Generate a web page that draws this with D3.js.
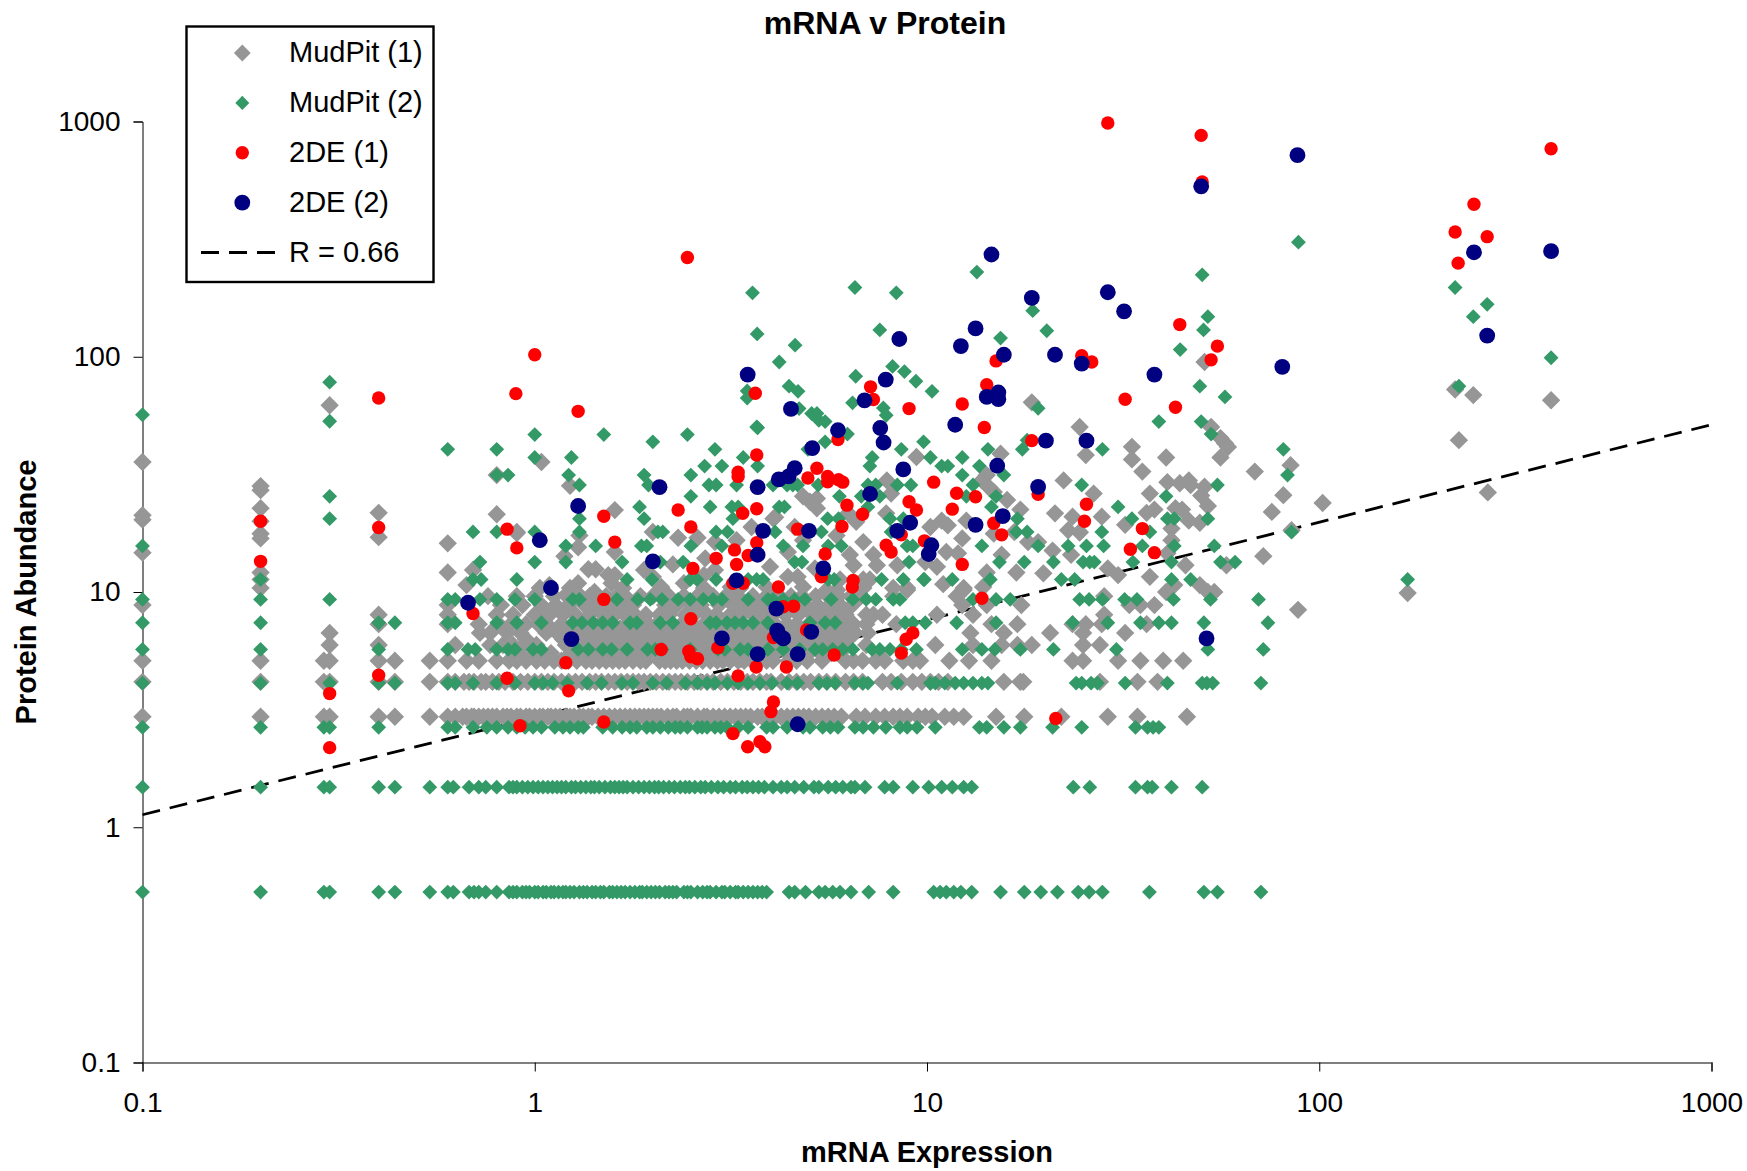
<!DOCTYPE html>
<html>
<head>
<meta charset="utf-8">
<script src="https://d3js.org/d3.v7.min.js"></script>
<style>
  html, body { margin: 0; padding: 0; background: #fff; }
  text { font-family: "Liberation Sans", Arial, sans-serif; fill: #000; }
</style>
</head>
<body>
<div id="graphDiv"></div>
<script>
// values. rows are [protein abundance, [mRNA values]]
var mudpit1Rows = [
  [2.95, [.1,.2,.29,.3,.4,.44,.54,.6,.627,.655,.67,.69,.7,.72,.74,.76,.78,.8,.83,.85,.87,.9,.92,.95,.97,1,1.03,1.05,1.08,1.1,1.13,1.16,1.2,1.23,1.26,1.3,1.33,1.37,1.4,1.45,1.5,1.55,1.6,1.65,1.7,1.75,1.8,1.85,1.9,1.95,2,2.05,2.1,2.18,2.25,2.3,2.4,2.45,2.5,2.6,2.7,2.75,2.85,2.95,3.05,3.15,3.25,3.35,3.45,3.55,3.7,3.8,3.95,4.1,4.25,4.4,4.55,4.7,4.85,5,5.2,5.4,5.6,5.8,6.05,6.6,6.95,7.4,7.8,8.2,8.53,8.9,9.5,9.9,10.3,11.1,11.7,12.4,15,17.7,22,28.9,34.4,46]],
  [4.15, [.1,.2,.29,.3,.4,.44,.54,.6,.627,.66,.68,.7,.73,.75,.78,.81,.84,.88,.92,.96,1,1.04,1.08,1.12,1.17,1.22,1.27,1.32,1.38,1.43,1.48,1.54,1.6,1.66,1.72,1.78,1.84,1.9,1.97,2.04,2.12,2.2,2.28,2.36,2.45,2.55,2.65,2.75,2.85,2.98,3.1,3.22,3.35,3.48,3.6,3.75,3.9,4,4.25,4.45,4.65,4.85,5.05,5.3,5.55,5.85,6.2,6.5,6.85,7.7,8.1,8.6,9.2,9.7,10.2,10.7,11.3,15.7,17.3,17.6,27.6,34.4,38.7]],
  [5.1, [.1,.2,.29,.3,.4,.44,.54,.6,.67,.72,.8,.86,.9,.95,1.01,1.06,1.12,1.17,1.22,1.28,1.35,1.4,1.46,1.52,1.58,1.64,1.7,1.78,1.86,1.92,2.08,2.15,2.22,2.3,2.38,2.48,2.58,2.68,2.8,2.92,3.02,3.15,3.3,3.42,3.58,3.72,3.9,4.05,4.45,4.65,4.95,5.4,6.2,6.5,6.85,7.4,7.8,8.7,9.2,9.6,11.4,12.8,14.6,23.5,25,30.7,35,40,45]],
  [5.95, [.3,.4,.627,.77,.83,.88,.94,1.01,1.2,1.27,1.36,1.44,1.53,1.63,1.74,1.86,1.98,2.1,2.26,2.4,2.55,2.7,2.86,3,3.24,3.45,3.72,3.95,4.25,4.5,4.75,5.1,5.45,5.8,6.05,7,10.5,13.1,15.5,17,18.5,25,27.6]],
  [6.7, [.3,.725,.77,.85,.92,1.07,1.14,1.22,1.31,1.39,1.47,1.58,1.68,1.79,1.9,2.02,2.17,2.33,2.48,2.62,2.78,2.93,3.12,3.38,3.55,3.78,4.02,4.3,4.55,4.85,5.2,5.6,5.95,6.3,6.55,7.07,12.9,15.7,20.6,25,32]],
  [7.3, [.4,.6,.72,.81,.87,.95,1.02,1.17,1.25,1.33,1.46,1.56,1.72,1.83,1.95,2.05,2.23,2.37,2.52,2.7,2.85,3.05,3.2,3.4,3.62,3.85,4.1,4.4,4.65,5,5.35,5.7,6.1,6.5,7,8.35,14.6,17,23.5,25.4,27.9,36.3]],
  [8, [.4,.6,.8,.88,1,1.09,1.18,1.27,1.38,1.5,1.6,1.7,1.8,1.92,2.08,2.2,2.42,2.55,2.75,2.9,3.15,3.35,3.6,3.8,4.05,4.35,4.7,5.1,5.5,5.85,6.2,7,7.3,7.7,10.6,13.1,28.3]],
  [8.8, [.1,.6,.82,.93,1.04,1.13,1.22,1.34,1.44,1.55,1.65,1.78,2.15,2.3,2.5,2.65,2.95,3.2,3.45,3.7,3.95,4.2,4.55,4.9,5.25,5.65,6,6.45,12.3,14.2,17.4,32.8,35,38]],
  [9.6, [.76,.9,1,1.12,1.25,1.38,1.52,1.62,1.7,1.86,2,2.2,2.4,2.6,2.85,3.1,3.3,3.6,3.9,4.2,4.5,4.8,5.2,5.6,5.95,6.4,6.8,8.2,11.9,28.3]],
  // extra rows inside the solid grey block
  [5.5, [.9,1,1.1,1.24,1.33,1.42,1.5,1.6,1.7,1.82,1.95,2.06,2.2,2.34,2.5,2.66,2.82,3,3.2,3.4,3.6,3.85,4.1,4.4,4.7,5,5.35,5.7,6]],
  [6.3, [.95,1.18,1.29,1.41,1.55,1.69,1.84,2,2.14,2.3,2.46,2.64,2.82,3.03,3.3,3.5,3.75,4,4.3,4.6,4.9,5.25,5.55,5.9,6.3]],
  [7, [1.1,1.2,1.3,1.43,1.52,1.65,1.77,1.9,2.03,2.2,2.35,2.5,2.68,2.88,3.1,3.3,3.55,3.8,4.05,4.35,4.62,4.95,5.3,5.65,6,6.4]]
];

// loose grey points away from the rows
var mudpit1Scatter = [
  [.1,35.7],[.1,21.2],[.1,20.3],[.1,14.7],
  [.2,28.2],[.2,27.1],[.2,22.7],[.2,20],[.2,17.7],[.2,16.9],[.2,12.1],[.2,11.3],[.2,10.4],
  [.3,62.2],[.4,21.7],[.4,17.1],[.6,16.1],[.6,12.1],[.696,12.4],[.67,10.7],[.8,21.4],[.9,17.8],
  [1.04,35.7],[.8,31.4],[1.23,28.3],[1.6,22.3],[.9,18],[1.3,17.4],[2,18],[1.29,15.5],[2.32,17],[2.6,17],
  [1.6,14.8],[1.19,14.2],[1.9,12.4],[2.72,13.9],[2.25,13.1],[3.98,12.8],[2.88,16.3],[3.27,16.6],[3.57,18.9],[4.06,20.5],
  [1.37,12.5],[1.43,12.5],[1.54,11.8],[1.6,11.8],[1.57,10.9],[1.68,10.4],[1.42,10],[1.03,10.4],[1.09,10.7],[1.29,10.9],[1.23,10.4],[1.2,9.7],[1.3,9.7],
  [2.1,10.5],[2,11.6],[2.4,10.9],[2.7,11.8],[2.7,10.4],[2.88,12.4],[3.16,10.5],[3.34,10.4],[3.9,10.5],[3.09,9.7],[4.05,9.9],
  [24.5,50.3],[18.5,64],[15.4,38.7],[14.2,31.4],[13.8,29.8],[14.4,27.8],[14.8,26.6],[16,24.6],[17.3,22.4],[16.7,18],[18.1,16.3],[19.2,16.3],[20.9,15],[23.3,14.4],[15.5,14.4],
  [16.9,12.1],[19.8,12],[14.2,12.1],[12.4,10.4],[11,10.8],[9.4,37.5],[7.9,29.8],[8.1,26.2],[4.83,25.5],[5.03,24.2],[5.24,25],[5.24,22.7],[4.1,20.8],[6.3,21.6],[6.6,19.9],[7.87,21.6],
  [10.2,18.9],[10.9,20.1],[11.3,19.2],[12.3,16.9],[12.6,20.1],[14.8,17.7],[21.2,21.6],[23.5,20.9],[27.9,20.9],[24.5,18],[26.6,26.2],[22.3,29.8],
  [6.88,16.3],[4.6,18.9],[5.88,17.4],[4.83,16.6],[4.42,14.8],[7.3,14.4],[7.45,13],[6.36,14.4],[6.5,13],[8.4,13],[9.9,13.4],[11.2,14.8],[10.6,12.8],[12,14.6],[28.9,12.6],
  [8.9,10.4],[8.2,10.4],[5.18,12.6],[4.42,11.6],[4.68,11.6],[6.88,11.3],[7.15,11.3],[5.9,10.2],[5.55,10.2],[6,11.3],[6.88,10.4],[4.83,10.5],
  [25.4,38.2],[33.3,41.4],[33.3,36.6],[40.7,37.3],[53,50.3],[56,45.1],[57.5,42.9],[58.5,41.3],[56,37.3],[35.4,32.5],[68.5,32.5],[41,29.3],[44.1,29],[46.5,29.8],[47,28.5],[51,28],[50,25.7],[37,26.2],
  [75.7,21.9],[24.5,17.9],[22.9,18.3],[32,19.3],[36.3,21.7],[38,22.4],[43,22.7],[44.7,22.4],[52,23.2],[46.5,20.1],[49.6,19.7],[42,18.6],[72,14.2],[58,13],[45.6,13],[42,16.6],[41,14.6],
  [30.7,11.8],[37,11.6],[40.7,10],[42.7,10.7],[49.6,10.7],[52,10],[54,10],[12.4,10.2],[13.9,10.5],[8.9,10.2],
  [51,95],[222,72.6],[247,68.7],[390,65.3],[227,44.2],[269,26.5],[168,9.9],[102,23.9],[84.5,34.6],[81,25.8],[85,18.3],[88.3,8.4]
];

var mudpit2Rows = [
  [.53, [.1,.2,.29,.3,.4,.44,.54,.6,.62,.68,.7,.72,.75,.8,.86,.88,.9,.93,.95,.97,1,1.02,1.05,1.07,1.1,1.12,1.15,1.18,1.2,1.23,1.26,1.3,1.33,1.36,1.4,1.43,1.47,1.5,1.55,1.58,1.62,1.66,1.7,1.75,1.8,1.85,1.88,1.93,1.98,2.03,2.08,2.15,2.2,2.25,2.3,2.4,2.45,2.5,2.6,2.68,2.75,2.8,2.9,3,3.05,3.15,3.25,3.3,3.4,3.5,3.6,3.7,3.8,3.9,4.45,4.6,4.9,5.3,5.5,5.75,6,6.4,7.1,8.2,10.4,10.8,11.2,11.7,12.2,13,15.4,17.7,19.5,21.5,24.3,25.9,28,36.9,50.8,55,71]],
  [1.48, [.1,.2,.29,.3,.4,.44,.54,.6,.62,.68,.72,.75,.8,.86,.88,.9,.93,.96,.99,1.02,1.05,1.08,1.11,1.14,1.17,1.2,1.24,1.27,1.31,1.35,1.39,1.42,1.46,1.51,1.56,1.6,1.64,1.68,1.72,1.78,1.84,1.9,1.96,2.02,2.07,2.13,2.2,2.27,2.35,2.42,2.48,2.56,2.65,2.72,2.82,2.93,3.03,3.15,3.25,3.38,3.48,3.6,3.72,3.85,4.05,4.25,4.4,4.6,4.85,5.15,5.3,5.6,5.85,6.1,6.4,6.55,6.95,7.8,8.2,9.2,10.1,10.9,11.6,12.4,13,23.6,26,34,36.5,37.5,42,50.3]],
  [2.66, [.1,.2,.29,.3,.4,.6,.627,.696,.755,.8,.855,.9,.945,.99,1.04,1.125,1.18,1.23,1.29,1.33,1.49,1.58,1.67,1.75,1.82,1.93,2,2.09,2.19,2.28,2.35,2.45,2.6,2.67,2.75,2.88,2.98,3.09,3.3,3.5,3.9,4.05,4.4,4.83,5.03,5.42,5.67,5.93,6.55,6.87,7.3,7.85,8.53,8.9,9.43,10.5,13.6,14.2,15.7,17.3,20.9,24.8,34,36.5,37.7,39]],
  [4.1, [.1,.2,.3,.4,.44,.6,.627,.696,.8,.89,1,1.05,1.11,1.21,1.36,1.48,1.67,1.78,2,2.17,2.42,2.6,2.75,2.88,3.1,3.3,3.5,3.75,4.03,4.4,4.68,5.3,5.56,5.83,6.55,6.87,7.07,8.4,10.2,10.5,11.1,11.8,12.4,13.1,13.8,14.3,24,24.8,26.2,27.2,32,41,50.3,51.7,53.5,71]],
  [5.7, [.1,.2,.4,.6,.676,.705,.8,.855,.89,.99,1.04,1.29,1.37,1.49,1.57,1.72,1.94,2.03,2.11,2.49,2.93,3.05,3.34,3.5,3.93,4.3,4.74,5.18,5.42,5.75,6.1,6.47,7.24,7.58,8.05,8.6,9.4,12.3,13.8,14.9,17.3,21,30.4,52,72]],
  [7.4, [.1,.2,.4,.44,.6,.627,.8,.9,1.04,1.25,1.32,1.41,1.49,1.58,1.75,1.82,2.09,2.25,2.8,2.9,3.09,3.24,3.4,3.6,3.93,5.03,5.5,5.83,8.8,9.2,9.9,11.9,15,23.5,28.9,35,39,42,50.8,74]],
  [9.3, [.1,.2,.3,.6,.627,.725,.8,.89,1,1.25,1.3,1.62,1.83,1.97,2.11,2.32,2.49,2.69,2.85,3,3.5,3.93,4.05,4.3,4.6,4.88,5.7,6.47,7,7.4,8.2,8.53,13.1,15,16.3,24.5,25.9,28,31.9,34.3,42.5,52.8,70]],
  [11.3, [.2,.696,.73,.9,1.72,1.99,2.49,2.59,2.9,3.5,3.68,3.82,5.6,5.8,7.66,8.7,9.8,9.85,11.6,14.5,22,23.8,42,47,168]],
  [13.4, [.725,1,1.2,1.67,2.09,2.39,4.6,4.8,9,15.3,17.7,21,25,26,26.7,33.5,42,56,61]],
  [15.7, [.1,1.2,1.43,1.87,1.93,2.5,3,4.3,4.83,5.6,6.05,8.9,9.2,13.8,19.2,22.9,25.5,28.2,35.4,42.7,54]],
  [18, [.696,.8,1,1.3,2.06,2.12,2.9,3.1,4.1,5.38,8.1,16.9,18,27.9,37,85]],
  [20.5, [.3,1.3,1.9,3.2,5.58,5.95,8.05,8.7,17,33.3,41,42.7,52]],
  [23, [1.85,2.8,3.18,3.3,4.2,4.33,7.07,14.6,30.7]],
  [25.5, [.3,2.5,5.98,6.8,7.58,12.6,15,40.7]],
  [28.5, [1.3,1.95,2.78,2.9,3.27,4.05,4.4,4.55,4.68,5.28,7.07,7.4,8.4,9.1,13.1,24.8,55]],
  [31.4, [.8,.855,1.22,1.9,2.5,12.3,15.7,83]],
  [34.3, [2.71,3,3.7,7.15,10.9,11.3,13.6]],
  [37.3, [1,1.24,3.4,7.25,10.2,12.3]],
  [40.4, [.6,.8,2.88,4.97,8.6,14.3,17.5,28,81]]
];

var mudpit2Scatter = [
  [1,46.7],[1.5,46.7],[2.45,46.7],[3.7,49.9],[2,43.5],[9.8,43.5],[18,44.2],
  [.1,56.7],[.3,53.2],[.3,78],[6.27,46.9],[5.5,43.5],
  [3.59,187],[3.69,125],[4.61,112],[4.2,95],[6.55,197],[8.35,187],[7.58,130],[13.4,229],[15.4,120],[8.17,91],[8.76,86.5],[9.37,78.7],[10.3,71.3],[6.58,82.6],
  [3.48,71.6],[3.48,66.8],[4.45,75],[4.69,71.3],[4.72,60.2],[5.08,57.4],[5.24,57.4],[5.3,53.7],[5.5,53],[3.68,50.3],[6.46,63.7],[7.74,60.6],[7.87,56.4],
  [88.5,307],[50.3,223],[222,197],[268,167],[247,148],[52,148],[50.7,130],[44.2,107.3],[49.6,75],[57.5,67.5],[390,99],[227,75],[18.6,157],[20.2,129],[39,53],[50,53],[19.2,60.4],[53,46.9]
];

var de1Points = [
  [28.9,985],[50,873],[50.3,553],[390,766],[248,445],[222,339],[268,324],[226,250],[2.45,264],[24.8,101],[26.3,95],[44.1,137],[55,111],[53,97],[32,66],[43,61],[9,60.2],[12.3,63],[14.2,76],[15,96],[14,50],[18.5,44],
  [10.4,29.3],[11.9,26.3],[13.3,25.4],[11.6,22.5],[9,24.2],[9.4,22.3],[19.2,26],[25.5,23.6],[25.2,20],[35.4,18.6],[33,15.2],[38,14.7],[14.8,19.6],[15.5,17.5],[9.85,16.5],[8.6,17.5],[12.3,13.1],[13.8,9.4],
  [4.06,3.41],[4,3.1],[8.6,5.5],[8.85,6.3],[9.2,6.7],[5.8,5.4],[4.38,4.8],[4.57,8.7],[4.3,8.65],[4.93,6.9],[4.06,6.4],[21.3,2.9],[3.86,2.2],[3.75,2.31],
  [.85,4.3],[.696,8.1],[1.5,9.3],[2.5,7.7],[2.1,5.7],[2.47,5.6],[2.5,5.3],[2.6,5.2],[1.2,5],[1.22,3.8],[.917,2.7],[1.5,2.8],[3.2,2.5],[3.49,2.2],[3.3,4.4],[3.67,4.8],[2.93,5.8],
  [.85,18.5],[.9,15.4],[1.5,21],[1.6,16.3],[2.32,22.3],[2.5,18.9],[2.53,12.6],[2.9,13.9],[3.23,15.1],[3.27,13.1],[3.5,14.3],[3.68,16.2],[3.39,21.6],[3.68,22.6],[3.3,32.3],[3.3,31],[3.68,38.2],[3.2,10.9],[3.4,10.9],[4.18,10.5],
  [5.93,44.5],[5.24,33.6],[4.97,30.5],[5.58,31],[5.58,29.4],[5.95,30],[6.1,29.3],[6.25,23.4],[6.85,21.4],[6.07,19],[4.68,18.5],[5.5,14.5],[5.38,11.6],[6.48,11.2],[6.45,10.5],[7.87,15.8],[8.1,14.8],
  [3.65,70],[7.18,74.5],[7.3,65.8],[.4,66.8],[1,102],[.895,69.7],[1.29,58.6],[.2,20],[.2,13.5],[.3,3.7],[.3,2.18],[.4,18.8],[.4,4.43]
];

var de2Points = [
  [88,719],[50,530],[14.6,272],[390,281],[248,278],[268,123],[80.5,90.6],[28.9,188],[31.8,156],[18.5,178],[12.2,111],[13.3,132],[15.7,102],[21.2,102],[24.8,93.5],[38,84],[8.5,119],[3.49,84],[7.85,80],[6.93,65.3],[4.5,60],
  [5.93,48.7],[7.6,49.8],[7.75,43.2],[14.2,67.5],[15.2,70.5],[15.2,66],[25.5,44],[20.1,44],[11.8,51.4],[15.1,34.4],[5.1,40.9],[8.7,33.2],[7.16,26.1],[19.2,28],[4.6,33.6],[4.44,31],[4.19,30.1],[3.7,27.9],[2.08,27.9],
  [1.29,23.2],[1.03,16.6],[13.3,19.3],[15.6,21],[9.06,19.7],[8.4,18.2],[3.82,18.2],[5,18.2],[3.7,14.4],[10.26,15.8],[10.1,14.5],[2,13.5],[5.44,12.6],[3.27,11.2],[1.1,10.4],[.676,9],[4.13,8.5],[1.24,6.3],[3,6.35],
  [4.15,6.85],[4.2,6.55],[4.3,6.35],[5.07,6.77],[3.7,5.44],[4.68,5.44],[4.68,2.74],[51.6,6.35]
];

// trend line ends
var fitX = [.1, 1000],
    fitY = [1.13, 51.4];

var tickValues = [.1, 1, 10, 100, 1000];
var legendNames = ["MudPit (1)", "MudPit (2)", "2DE (1)", "2DE (2)", "R = 0.66"];

function rowsToPoints(rows) {
  return rows.flatMap(function(r) { return r[1].map(function(x) { return [x, r[0]]; }); });
}

var outerWidth = 1747,
    outerHeight = 1171,
    margin = {top: 121.5, right: 35.5, bottom: 108.5, left: 142.5},
    innerWidth = outerWidth - margin.left - margin.right,
    innerHeight = outerHeight - margin.top - margin.bottom;

var root = d3.select("#graphDiv").append("svg")
    .attr("width", outerWidth)
    .attr("height", outerHeight)
    .style("display", "block");

var svg = root.append("g")
    .attr("transform", "translate(" + margin.left + "," + margin.top + ")");

var x = d3.scaleLog().domain([.1, 1000]).range([0, innerWidth]);
var y = d3.scaleLog().domain([.1, 1000]).range([innerHeight, 0]);

// trend line sits under the markers
svg.append("path")
    .datum(d3.zip(fitX, fitY))
    .attr("fill", "none")
    .attr("stroke", "#000")
    .attr("stroke-width", 2.8)
    .attr("stroke-dasharray", "18,10")
    .attr("d", d3.line().x(function(d) { return x(d[0]); }).y(function(d) { return y(d[1]); }));

var fmt = d3.format("~g");

var xAxis = svg.append("g")
    .attr("transform", "translate(0," + innerHeight + ")")
    .call(d3.axisBottom(x).tickValues(tickValues).tickFormat(fmt).tickSize(9).tickPadding(21));
var yAxis = svg.append("g")
    .call(d3.axisLeft(y).tickValues(tickValues).tickFormat(fmt).tickSize(9).tickPadding(13));

xAxis.select(".domain").attr("stroke", "#555").attr("stroke-width", 1.5);
yAxis.select(".domain").attr("stroke", "#000");
root.selectAll(".tick text").style("font-size", "28px").style("font-family", '"Liberation Sans", Arial, sans-serif');
root.selectAll(".tick line").attr("stroke", "#000");

function diamonds(data, color, size) {
  svg.append("g").selectAll("path")
    .data(data)
    .enter()
    .append("path")
    .attr("fill", color)
    .attr("d", d3.symbol().type(d3.symbolDiamond2).size(size))
    .attr("transform", function(d) { return "translate(" + x(d[0]) + "," + y(d[1]) + ")"; });
}

function dots(data, color, r) {
  svg.append("g").selectAll("circle")
    .data(data)
    .enter()
    .append("circle")
    .attr("fill", color)
    .attr("r", r)
    .attr("cx", function(d) { return x(d[0]); })
    .attr("cy", function(d) { return y(d[1]); });
}

diamonds(rowsToPoints(mudpit1Rows).concat(mudpit1Scatter), "#969696", 215);
diamonds(rowsToPoints(mudpit2Rows).concat(mudpit2Scatter), "#339966", 140);
dots(de1Points, "#ff0000", 6.7);
dots(de2Points, "#000080", 7.9);

// titles
root.append("text")
    .attr("x", 885).attr("y", 34)
    .attr("text-anchor", "middle")
    .style("font-size", "32px").style("font-weight", "bold")
    .text("mRNA v Protein");
root.append("text")
    .attr("x", 927).attr("y", 1162)
    .attr("text-anchor", "middle")
    .style("font-size", "29px").style("font-weight", "bold")
    .text("mRNA Expression");
root.append("text")
    .attr("transform", "translate(36,592)rotate(-90)")
    .attr("text-anchor", "middle")
    .style("font-size", "29px").style("font-weight", "bold")
    .text("Protein Abundance");

// legend
var legend = root.append("g");
legend.append("rect")
    .attr("x", 186.5).attr("y", 26.5)
    .attr("width", 247).attr("height", 255.5)
    .attr("fill", "#fff").attr("stroke", "#000").attr("stroke-width", 2.4);

var legendRow = d3.scalePoint().domain(legendNames).range([53, 252.5]);

legend.selectAll("text")
    .data(legendNames)
    .enter()
    .append("text")
    .attr("x", 289)
    .attr("y", function(d) { return legendRow(d) + 9; })
    .style("font-size", "29px")
    .text(function(d) { return d; });

legend.append("path").attr("fill", "#969696")
    .attr("d", d3.symbol().type(d3.symbolDiamond2).size(180))
    .attr("transform", "translate(242.3," + legendRow(legendNames[0]) + ")");
legend.append("path").attr("fill", "#339966")
    .attr("d", d3.symbol().type(d3.symbolDiamond2).size(125))
    .attr("transform", "translate(242.3," + legendRow(legendNames[1]) + ")");
legend.append("circle").attr("fill", "#ff0000").attr("r", 6.7)
    .attr("cx", 242.3).attr("cy", legendRow(legendNames[2]));
legend.append("circle").attr("fill", "#000080").attr("r", 7.9)
    .attr("cx", 242.3).attr("cy", legendRow(legendNames[3]));
legend.append("line")
    .attr("x1", 201).attr("x2", 275)
    .attr("y1", legendRow(legendNames[4])).attr("y2", legendRow(legendNames[4]))
    .attr("stroke", "#000").attr("stroke-width", 2.8).attr("stroke-dasharray", "18,10");
</script>
</body>
</html>
